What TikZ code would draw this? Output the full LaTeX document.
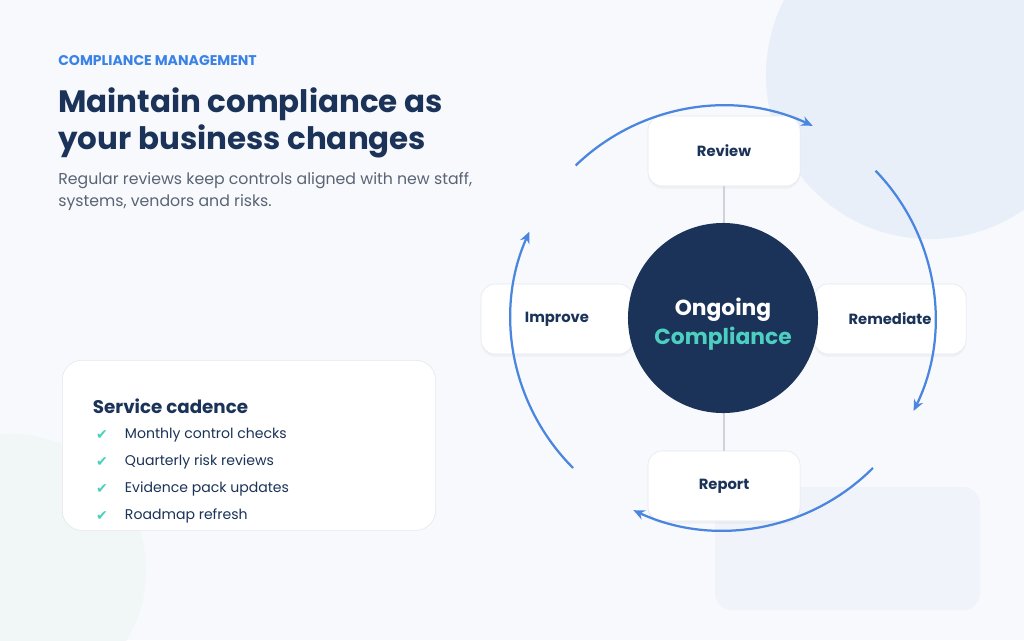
\documentclass[tikz,border=0pt]{standalone}
\usepackage{fontspec}
\setmainfont{Poppins}
\newfontfamily\symf{DejaVu Sans}
\usetikzlibrary{arrows.meta,shadows}
\definecolor{bg}{HTML}{F7F9FC}
\definecolor{navy}{HTML}{1B3358}
\definecolor{acc}{HTML}{3B82E6}
\definecolor{arr}{HTML}{4A86E0}
\definecolor{teal}{HTML}{4CCFC0}
\definecolor{txt}{HTML}{5A6475}
\definecolor{bord}{HTML}{E3E7EE}
\definecolor{blob1}{HTML}{E9EFF8}
\definecolor{blob2}{HTML}{F1F6F6}
\definecolor{blob3}{HTML}{F0F3FA}
\tikzset{
 stagebox/.style={draw=bord,fill=white,rounded corners=10pt,minimum width=3.8cm,minimum height=1.75cm,font=\fontsize{10.5}{12}\selectfont\bfseries,text=navy,drop shadow={opacity=0.06,shadow xshift=0pt,shadow yshift=-2pt}},
 cyc/.style={draw=arr,line width=1.6pt,-{Stealth[length=8pt,width=7pt]}},
 item/.style={anchor=west,font=\fontsize{10}{12}\selectfont,text=navy},
 chk/.style={text=teal,font=\symf\fontsize{10}{12}\selectfont}
}
\begin{document}
\begin{tikzpicture}[x=0.025cm,y=-0.025cm]
\fill[bg] (0,0) rectangle (1024,640);
\useasboundingbox (0,0) rectangle (1024,640);
\fill[blob1] (930,75) circle[radius=4.1cm];
\fill[blob2] (10,570) circle[radius=3.4cm];
\fill[blob3,rounded corners=12pt] (715,487) rectangle (980,610);
\node[anchor=west,inner sep=0pt,text=acc,font=\fontsize{10}{12}\selectfont\bfseries] (tag) at (58,61) {COMPLIANCE MANAGEMENT};
\node[anchor=north west,inner sep=0pt,text=navy,font=\fontsize{22}{26.5}\selectfont\bfseries,align=left] (head) at (58,87) {Maintain compliance as\\your business changes};
\node[anchor=north west,inner sep=0pt,text=txt,font=\fontsize{11.2}{16}\selectfont,align=left] (sub) at (58,172) {Regular reviews keep controls aligned with new staff,\\systems, vendors and risks.};
\node[draw=bord,fill=white,rounded corners=14pt,minimum width=9.33cm,minimum height=4.25cm,anchor=north west] (card) at (62,360) {};
\node[anchor=west,text=navy,font=\fontsize{13}{15}\selectfont\bfseries] (sc) at (88,406) {Service cadence};
\foreach \y/\t [count=\i] in {435/Monthly control checks,462/Quarterly risk reviews,489/Evidence pack updates,516/Roadmap refresh}{
 \node[chk] (c\i) at (102,\y) {✔};
 \node[item] (t\i) at (120,\y) {\t};
}
\node[stagebox] (review) at (724,151) {Review};
\node[stagebox] (report) at (724,486) {Report};
\draw[bord!80!gray,line width=1pt] (review.south) -- (report.north);
\node[stagebox] (improve) at (557,319) {Improve};
\node[stagebox] (remed) at (890,319) {Remediate};
\node[circle,fill=navy,minimum size=4.75cm,align=center,font=\fontsize{15.5}{21}\selectfont\bfseries] (core) at (723,318) {};
\node[align=center,font=\fontsize{15.5}{21}\selectfont\bfseries] (coretxt) at (723,324) {\textcolor{white}{Ongoing}\\\textcolor{teal}{Compliance}};
\coordinate (C) at (723,318);
\draw[cyc] ([shift={(134:5.3cm)}]C) arc[start angle=134,end angle=65,radius=5.3cm];
\draw[cyc] ([shift={(44:5.3cm)}]C) arc[start angle=44,end angle=-26,radius=5.3cm];
\draw[cyc] ([shift={(-45:5.3cm)}]C) arc[start angle=-45,end angle=-115,radius=5.3cm];
\draw[cyc] ([shift={(-135:5.3cm)}]C) arc[start angle=-135,end angle=-204,radius=5.3cm];
\end{tikzpicture}
\end{document}
